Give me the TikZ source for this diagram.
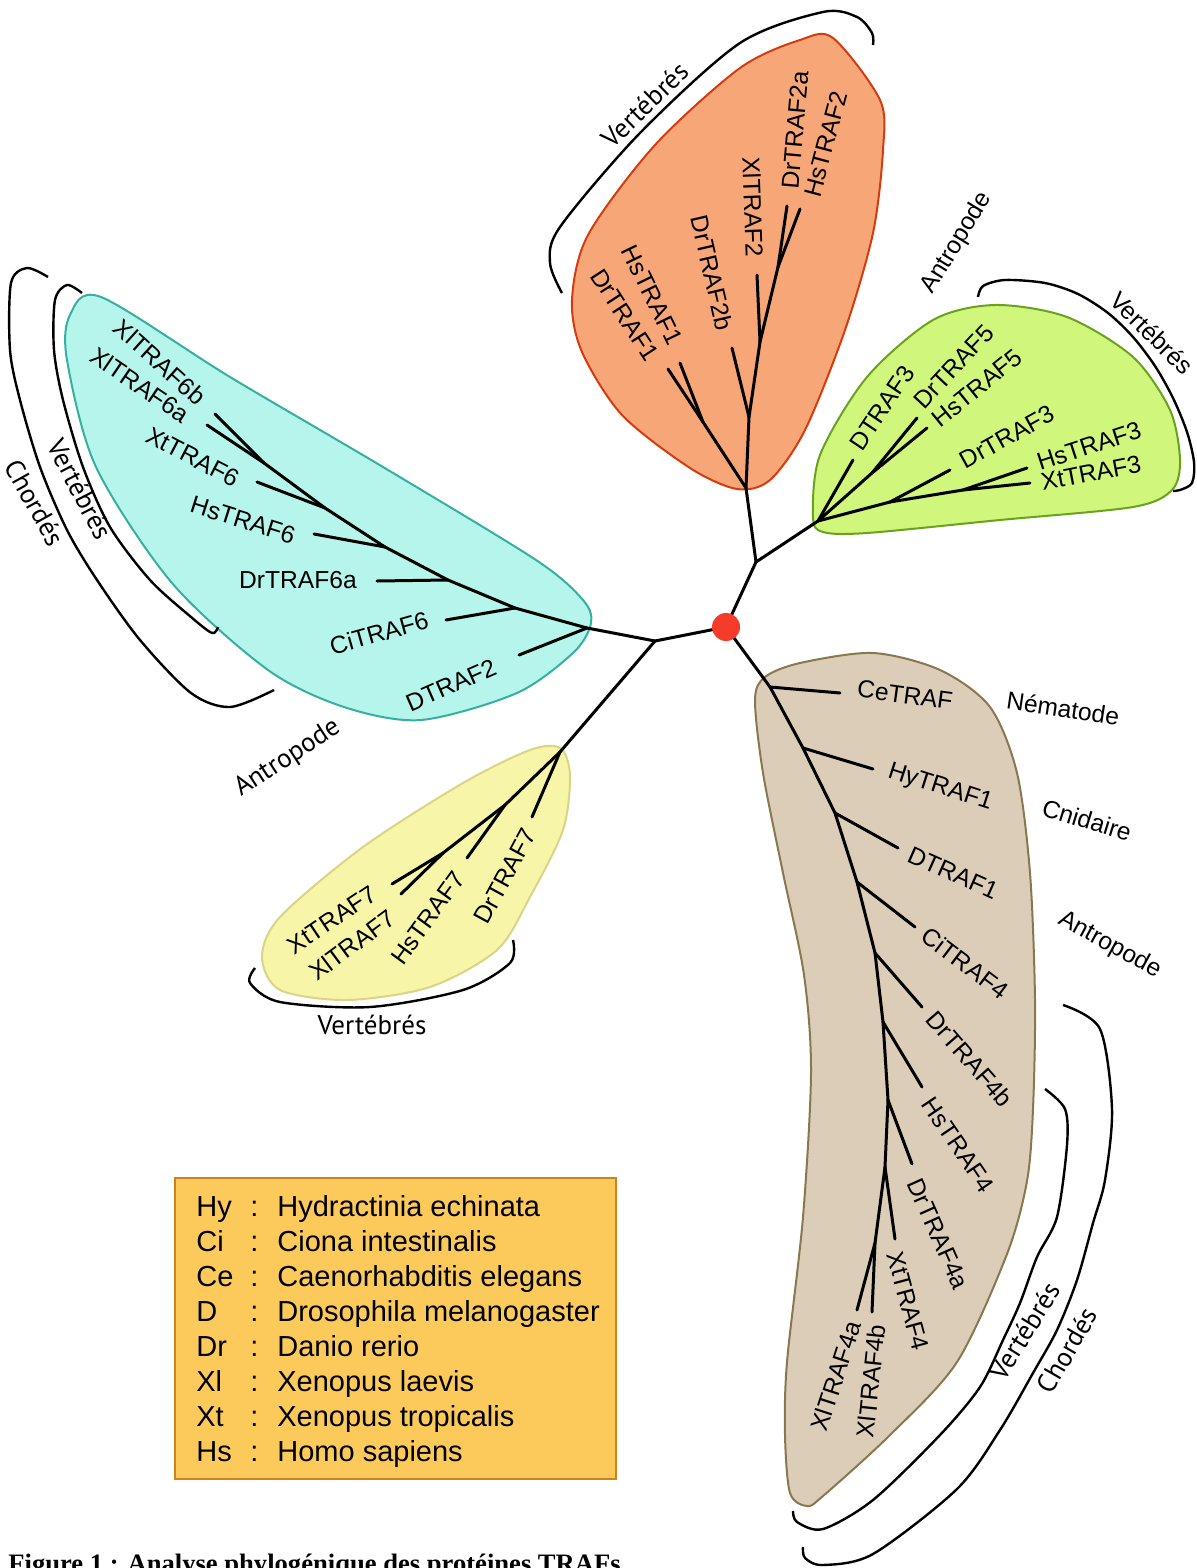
\documentclass[tikz,border=0pt]{standalone}
\usepackage{fontspec}
\setmainfont{Liberation Sans}
\newfontfamily\myriad{PT Sans}
\newfontfamily\capserif{Liberation Serif}

\definecolor{rootred}{HTML}{F53B2A}
\definecolor{orfill}{HTML}{F7A677}
\definecolor{ordraw}{HTML}{D63B10}
\definecolor{grfill}{HTML}{D0F77B}
\definecolor{grdraw}{HTML}{6AA21F}
\definecolor{cyfill}{HTML}{B6F5EC}
\definecolor{cydraw}{HTML}{35B0A0}
\definecolor{yefill}{HTML}{F7F5A8}
\definecolor{yedraw}{HTML}{D9D486}
\definecolor{tafill}{HTML}{DCCDB8}
\definecolor{tadraw}{HTML}{87784F}
\definecolor{legfill}{HTML}{FBCA5A}
\definecolor{legdraw}{HTML}{D0821A}

\tikzset{
  branch/.style={line width=1.5pt, line cap=round, line join=round},
  blob/.style={line width=1pt},
  bracket/.style={line width=1.2pt},
  lbl/.style={font=\fontsize{12.3}{14}\selectfont, inner sep=0pt},
  grp/.style={font=\myriad\fontsize{13.5}{16}\selectfont, inner sep=0pt},
  grpa/.style={font=\fontsize{12.3}{14}\selectfont, inner sep=0pt},
  leg/.style={font=\fontsize{14.5}{17}\selectfont, inner sep=0pt, anchor=base west},
}

\begin{document}
\begin{tikzpicture}[x=0.5pt,y=-0.5pt]
    \useasboundingbox (0,0) rectangle (1197,1568);

    \draw[blob, draw=ordraw, fill=orfill] plot[smooth cycle] coordinates {(833,38) (880,100) (883,150) (873,233) (845,330) (805,430) (770,480) (737,489) (690,468) (622,415) (582,352) (572,300) (588,235) (655,145) (740,68) (800,40)};
    \draw[blob, draw=grdraw, fill=grfill] plot[smooth cycle] coordinates {(813,517) (820,455) (867,377) (933,320) (995,305) (1067,317) (1133,357) (1170,410) (1180,460) (1172,490) (1133,507) (1000,520) (867,533) (823,532)};
    \draw[blob, draw=cydraw, fill=cyfill] plot[smooth cycle] coordinates {(101,297) (230,377) (383,467) (536,560) (583,600) (591,623) (574,652) (517,693) (421,720) (344,707) (268,670) (172,583) (96,467) (67,360) (70,315)};
    \draw[blob, draw=yedraw, fill=yefill] plot[smooth cycle] coordinates {(560,748) (570,775) (563,830) (530,897) (497,950) (430,987) (347,1000) (280,990) (262,957) (280,917) (363,847) (463,783) (530,750)};
    \draw[blob, draw=tadraw, fill=tafill] plot[smooth cycle] coordinates {(755,700) (765,677) (800,663) (873,653) (940,670) (990,707) (1017,773) (1030,873) (1035,1000) (1033,1109) (1027,1181) (1007,1254) (957,1362) (890,1435) (823,1496) (807,1506) (790,1493) (785,1435) (787,1362) (803,1217) (811,1072) (804,975) (783,873) (763,773)};

    \draw[bracket] plot[smooth] coordinates {(562,293) (550,263) (560,227) (640,133) (740,43) (823,12) (857,17) (872,33) (873,45)};
    \draw[bracket] plot[smooth] coordinates {(978,297) (983,286) (1005,280) (1045,283) (1078,294) (1108,313) (1133,337) (1155,366) (1173,398) (1187,432) (1194,462) (1192,483) (1180,490) (1173,491)};
    \draw[bracket] plot[smooth] coordinates {(82,293) (67,285) (55,300) (54,350) (63,400) (83,467) (110,527) (150,580) (191,617) (212,633) (218,627)};
    \draw[bracket] plot[smooth] coordinates {(48,277) (27,268) (11,283) (10,350) (20,400) (40,467) (67,530) (97,580) (140,640) (191,693) (230,707) (274,690)};
    \draw[bracket] plot[smooth] coordinates {(255,968) (250,983) (280,1002) (370,1007) (463,990) (510,963) (513,940)};
    \draw[bracket] plot[smooth] coordinates {(1045,1089) (1065,1109) (1067,1145) (1057,1217) (1037,1257) (1020,1303) (1003,1340) (980,1387) (940,1435) (873,1500) (823,1529) (797,1522) (793,1511)};
    \draw[bracket] plot[smooth] coordinates {(1063,1005) (1100,1029) (1112,1109) (1105,1180) (1093,1223) (1077,1280) (1057,1330) (1033,1373) (1000,1430) (957,1489) (873,1554) (823,1565) (805,1558) (803,1547)};

    \foreach \n/\x/\y in {R/726/627, A/756/562, O0/746/488, O1/749/417, O2/760/342, O3/778/267, O4/703/422,
        tDrTRAF2b/732/348, tXlTRAF2/757/275, tDrTRAF2a/787/206, tHsTRAF2/800/209, tHsTRAF1/680/363, tDrTRAF1/668/369,
        G0/818/521, G1/872/473, G2/890/502, G3/963/490, tDTRAF3/853/460, tDrTRAF5/917/418, tHsTRAF5/927/428,
        tDrTRAF3/950/470, tHsTRAF3/1027/468, tXtTRAF3/1030/483,
        B/655/641, C0/587/628, C1/515/608, C2/448/580, C3/385/547, C4/325/508, C5/264/463,
        tDTRAF2/519/655, tCiTRAF6/446/620, tDrTRAF6a/377/581, tHsTRAF6/314/534, tXtTRAF6/257/482, tXlTRAF6a/207/425, tXlTRAF6b/215/414,
        Y0/560/752, Y1/505/805, Y2/443/853, tDrTRAF7/532/817, tHsTRAF7/467/858, tXtTRAF7/392/884, tXlTRAF7/401/894,
        T0/770/687, T1/803/748, T2/835/813, T3/857/882, T4/875/953, T5/883/1022, T6/888/1100, T7/885/1167, T8/875/1243,
        tCeTRAF/840/693, tHyTRAF1/873/769, tDTRAF1/898/848, tCiTRAF4/915/927, tDrTRAF4b/922/1007, tHsTRAF4/922/1087,
        tDrTRAF4a/912/1164, tXtTRAF4/895/1239, tXlTRAF4a/857/1310, tXlTRAF4b/872/1312}
        \coordinate (\n) at (\x,\y);

    \foreach \a/\b in {R/A, A/O0, O0/O1, O1/tDrTRAF2b, O1/O2, O2/tXlTRAF2, O2/O3, O3/tDrTRAF2a, O3/tHsTRAF2, O0/O4, O4/tHsTRAF1, O4/tDrTRAF1,
        A/G0, G0/tDTRAF3, G0/G1, G1/tDrTRAF5, G1/tHsTRAF5, G0/G2, G2/tDrTRAF3, G2/G3, G3/tHsTRAF3, G3/tXtTRAF3,
        R/B, B/C0, C0/tDTRAF2, C0/C1, C1/tCiTRAF6, C1/C2, C2/tDrTRAF6a, C2/C3, C3/tHsTRAF6, C3/C4, C4/tXtTRAF6, C4/C5, C5/tXlTRAF6a, C5/tXlTRAF6b,
        B/Y0, Y0/tDrTRAF7, Y0/Y1, Y1/tHsTRAF7, Y1/Y2, Y2/tXtTRAF7, Y2/tXlTRAF7,
        R/T0, T0/tCeTRAF, T0/T1, T1/tHyTRAF1, T1/T2, T2/tDTRAF1, T2/T3, T3/tCiTRAF4, T3/T4, T4/tDrTRAF4b, T4/T5, T5/tHsTRAF4,
        T5/T6, T6/tDrTRAF4a, T6/T7, T7/tXtTRAF4, T7/T8, T8/tXlTRAF4a, T8/tXlTRAF4b}
        \draw[branch] (\a) -- (\b);

    \node[circle, fill=rootred, minimum size=14pt, inner sep=0pt] (root) at (R) {};

    \foreach \n/\x/\y/\r in {DrTRAF2a/795/130/85, HsTRAF2/826/144/75, XlTRAF2/753/207/-88, DrTRAF2b/712/273/-77, HsTRAF1/652/295/-64, DrTRAF1/625/315/-57,
        DTRAF3/882/408/56, DrTRAF5/954/367/47, HsTRAF5/977/388/39, DrTRAF3/1007/437/29, HsTRAF3/1089/446/18, XtTRAF3/1091/473/11,
        XlTRAF6b/160/362/-42, XlTRAF6a/140/385/-34, XtTRAF6/193/457/-27.5, HsTRAF6/243/520/-17.5, DrTRAF6a/298/580/0, CiTRAF6/379/633/15.6, DTRAF2/451/685/23.7,
        XtTRAF7/332/920/33.7, XlTRAF7/352/945/36.7, HsTRAF7/428/918/54, DrTRAF7/505/876/61.5,
        CeTRAF/905/695/-7.8, HyTRAF1/940/788/-17.8, DTRAF1/953/873/-24, CiTRAF4/965/963/-37, DrTRAF4b/970/1059/-49,
        HsTRAF4/958/1145/-56, DrTRAF4a/938/1234/-66, XtTRAF4/908/1301/-75, XlTRAF4a/836/1376/72, XlTRAF4b/871/1381/84}
        \node[lbl, rotate=\r] (\n) at (\x,\y) {\n};

    \node[grp, rotate=44] (vertA) at (645,105) {Vertébrés};
    \node[grpa, rotate=58.6] (antroA) at (957,243) {Antropode};
    \node[grpa, rotate=-44.6] (vertB) at (1152,333) {Vertébrés};
    \node[grp, rotate=-62.6] (vertC) at (80,489) {Vertébrés};
    \node[grp, rotate=-61] (chordC) at (35,503) {Chordés};
    \node[grp, rotate=33] (antroC) at (288,758) {Antropode};
    \node[grp] (vertD) at (372,1025) {Vertébrés};
    \node[grpa, rotate=-8.5] (nema) at (1063,708) {Nématode};
    \node[grpa, rotate=-17] (cnid) at (1087,820) {Cnidaire};
    \node[grpa, rotate=-28.5] (antroE) at (1110,945) {Antropode};
    \node[grp, rotate=58] (vertE) at (1025,1331) {Vertébrés};
    \node[grp, rotate=60] (chordE) at (1067,1350) {Chordés};

    \draw[line width=1.2pt, draw=legdraw, fill=legfill] (175,1178) rectangle (616,1479);
    \foreach \ab/\sp [count=\i] in {Hy/Hydractinia echinata, Ci/Ciona intestinalis, Ce/Caenorhabditis elegans, D/Drosophila melanogaster,
        Dr/Danio rerio, Xl/Xenopus laevis, Xt/Xenopus tropicalis, Hs/Homo sapiens} {
        \node[leg] (ab\i) at (196,1181+35*\i) {\ab};
        \node[leg] (colon\i) at (250,1181+35*\i) {:};
        \node[leg] (sp\i) at (277,1181+35*\i) {\sp};
    }

    \node[font=\capserif\bfseries\fontsize{13.3}{16}\selectfont, inner sep=0pt, anchor=base west] (caption) at (8,1572) {Figure 1 : Analyse phylogénique des protéines TRAFs};
\end{tikzpicture}
\end{document}
